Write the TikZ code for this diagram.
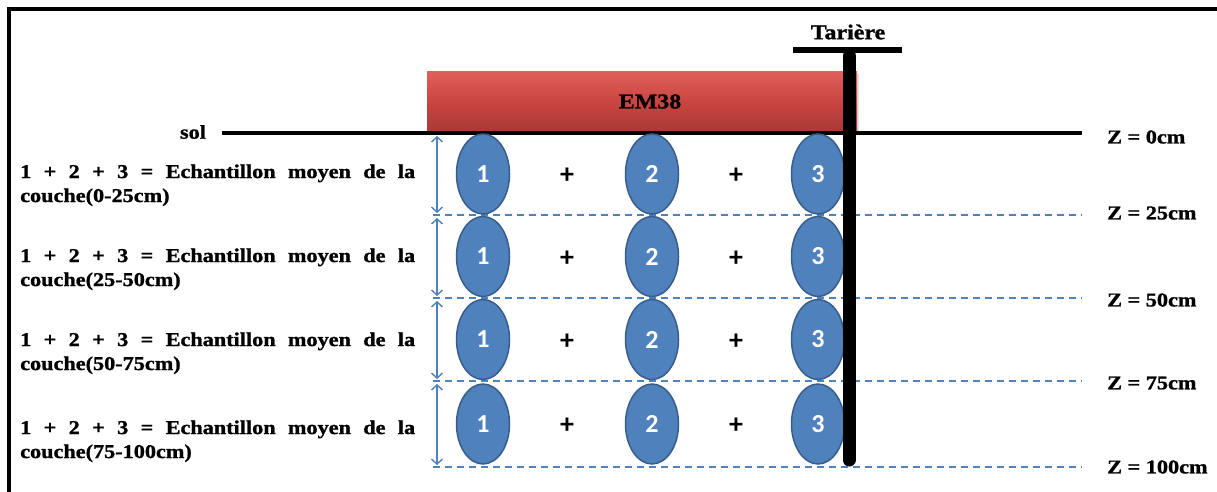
\documentclass[tikz,border=0pt]{standalone}
\usepackage{fontspec}
\setmainfont{Liberation Serif}[FakeStretch=1.14,FakeBold=1.2]
\newfontfamily\numfont{Carlito}
\usetikzlibrary{arrows.meta,shapes.geometric,shadows}
\definecolor{ellfill}{HTML}{4F81BD}
\definecolor{ellline}{HTML}{385D8A}
\definecolor{dashblue}{HTML}{4F81BD}
\definecolor{emtop}{HTML}{E0605B}
\definecolor{emmid}{HTML}{CA4541}
\definecolor{embot}{HTML}{A83A36}
\begin{document}
\begin{tikzpicture}[x=1pt,y=-1pt,
  lbl/.style={font=\fontsize{19.5}{22}\selectfont\bfseries, inner sep=0pt},
  rowtxt/.style={lbl, anchor=base west},
  zlbl/.style={lbl, anchor=west},
  sample/.style={ellipse, draw=ellline, line width=1.5pt, fill=ellfill,
    minimum width=53pt, minimum height=80pt, inner sep=0pt, text=white,
    font=\numfont\bfseries\fontsize{26}{26}\selectfont},
  plus/.style={font=\numfont\bfseries\fontsize{28}{28}\selectfont, inner sep=0pt},
  depth/.style={dashblue, line width=1.4pt, dash pattern=on 7pt off 5pt},
  span/.style={dashblue, line width=1.4pt,
    {Straight Barb[length=5pt,width=11pt]}-{Straight Barb[length=5pt,width=11pt]}},
  em/.style={rectangle, minimum width=430pt, minimum height=59pt, inner sep=0pt,
    top color=emtop, bottom color=embot, middle color=emmid,
    font=\fontsize{21}{21}\selectfont\bfseries,
    drop shadow={opacity=0.25, shadow xshift=1.5pt, shadow yshift=-2pt}},
  ground/.style={line width=3.5pt},
]
\useasboundingbox (0,0) rectangle (1217,492);
\fill[white] (0,0) rectangle (1217,492);

% frame (left and top edges visible)
\coordinate (f0) at (9,492);
\coordinate (f1) at (9,9);
\coordinate (f2) at (1217,9);
\draw[line width=3.5pt] (f0) -- (f1) -- (f2);

% EM38 device
\node[em] (em) at (642,101.5) {\hspace*{16pt}EM38};

% ground line
\node[lbl] (sol) at (193,132) {sol};
\coordinate (g0) at (222,133);
\coordinate (g1) at (1082,133);
\draw[ground] (g0) -- (g1);

% depth dashed lines
\foreach \i/\y in {1/215,2/298,3/381,4/467}{
  \coordinate (d\i s) at (433,\y);
  \coordinate (d\i e) at (1082,\y);
  \draw[depth] (d\i s) -- (d\i e);
}

% layer span arrows
\foreach \i/\ya/\yb in {1/136/213,2/218/296,3/301/379,4/384/465}{
  \coordinate (a\i t) at (437,\ya);
  \coordinate (a\i b) at (437,\yb);
  \draw[span] (a\i t) -- (a\i b);
}

% samples
\foreach \r/\y in {1/174,2/256.5,3/339.5,4/424}{
  \node[sample] (e\r1) at (483,\y) {1};
  \node[sample] (e\r2) at (652,\y) {2};
  \node[sample] (e\r3) at (818,\y) {3};
  \node[plus] (p\r a) at (567,\y+2) {+};
  \node[plus] (p\r b) at (736,\y+2) {+};
}

% auger
\node[lbl, font=\fontsize{21}{21}\selectfont\bfseries] (tar) at (848,32) {Tarière};
\coordinate (c0) at (793,50);
\coordinate (c1) at (902,50);
\draw[line width=6pt] (c0) -- (c1);
\coordinate (s0) at (849,56);
\coordinate (s1) at (849,460);
\draw[line width=13pt, line cap=round] (s0) -- (s1);

% depth labels
\node[zlbl] (z0) at (1107,137) {Z = 0cm};
\node[zlbl] (z25) at (1107,213) {Z = 25cm};
\node[zlbl] (z50) at (1107,300) {Z = 50cm};
\node[zlbl] (z75) at (1107,383) {Z = 75cm};
\node[zlbl] (z100) at (1107,467) {Z = 100cm};

% layer texts
\foreach \r/\y/\rng in {1/178/0-25cm,2/262/25-50cm,3/346/50-75cm,4/434/75-100cm}{
  \node[rowtxt] (t\r a) at (20,\y) {\makebox[395pt][s]{1 + 2 + 3 = Echantillon moyen de la}};
  \node[rowtxt] (t\r b) at (20,\y+24) {couche(\rng)};
}
\end{tikzpicture}
\end{document}
